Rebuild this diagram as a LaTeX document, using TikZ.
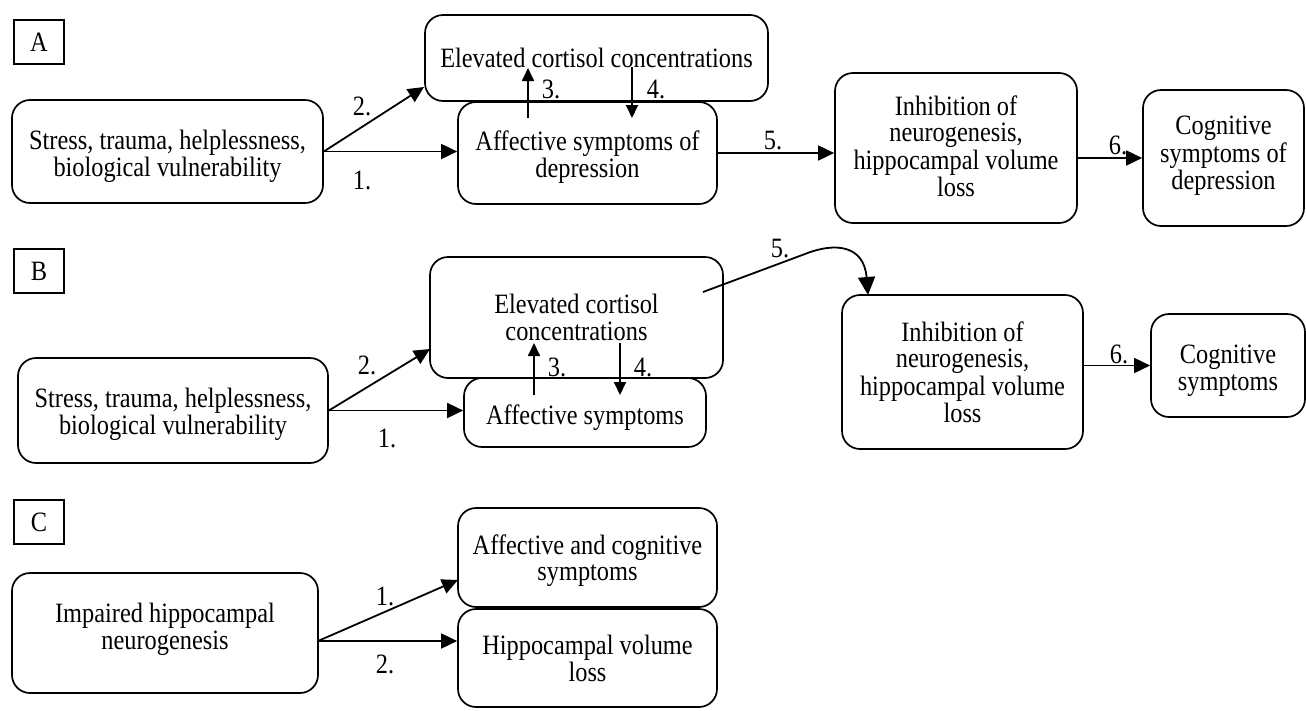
\documentclass[tikz,border=0pt]{standalone}
\usepackage{fontspec}
\setmainfont[FakeStretch=0.87]{Liberation Serif}
\usetikzlibrary{arrows.meta,calc}
\begin{document}
\begin{tikzpicture}[x=1pt,y=-1pt,
  box/.style={draw,line width=1.7pt,rounded corners=18pt,align=center,inner sep=0pt,font=\fontsize{28}{26.5}\selectfont},
  tag/.style={draw,line width=1.4pt,inner sep=0pt,minimum width=50pt,minimum height=44pt,font=\fontsize{28}{26.5}\selectfont},
  num/.style={inner sep=0pt,font=\fontsize{28}{26.5}\selectfont},
  arr/.style={line width=1.8pt,-{Triangle[length=16pt,width=15pt]}},
  sarr/.style={line width=1.8pt,-{Triangle[length=13pt,width=12pt]}},
  barr/.style={line width=1.8pt,-{Triangle[length=18pt,width=17pt]}}
]
\newcommand{\tx}[2]{\raisebox{#1}[\height][\depth]{\begin{tabular}{@{}c@{}}#2\end{tabular}}}
\useasboundingbox (0,0) rectangle (1306,710);
\fill[white] (0,0) rectangle (1306,710);

% ---------------- Panel A ----------------
\node[tag] (labA) at (39,42) {A};
\node[box,minimum width=311pt,minimum height=103pt] (sA) at (167.5,151.5) {\tx{-6pt}{Stress, trauma, helplessness,\\biological vulnerability}};
\node[box,minimum width=343pt,minimum height=86pt] (cA) at (596.5,58) {Elevated cortisol concentrations};
\node[box,minimum width=259pt,minimum height=102pt] (aA) at (587.5,153) {\tx{-5pt}{Affective symptoms of\\depression}};
\node[box,minimum width=242pt,minimum height=150pt] (iA) at (956,148) {\tx{-2pt}{Inhibition of\\neurogenesis,\\hippocampal volume\\loss}};
\node[box,minimum width=161pt,minimum height=136pt] (gA) at (1223.5,158) {\tx{1pt}{Cognitive\\symptoms of\\depression}};

\coordinate (a2end) at (424,87);
\coordinate (a3s) at (528,118);
\coordinate (a3e) at (528,68);
\coordinate (a4s) at (632,67);
\coordinate (a4e) at (632,118);

\draw[arr] (sA.east) -- (sA.east -| aA.west);
\draw[arr] (sA.east) -- (a2end);
\draw[sarr] (a3s) -- (a3e);
\draw[sarr] (a4s) -- (a4e);
\draw[arr] (aA.east) -- (aA.east -| iA.west);
\draw[arr] (iA.east |- gA.west) -- (gA.west);

\node[num] (nA1) at (362,180) {1.};
\node[num] (nA2) at (362,106) {2.};
\node[num] (nA3) at (551,89) {3.};
\node[num] (nA4) at (656,89) {4.};
\node[num] (nA5) at (773,141) {5.};
\node[num] (nA6) at (1118,145) {6.};

% ---------------- Panel B ----------------
\node[tag] (labB) at (39,271) {B};
\node[box,minimum width=310pt,minimum height=105pt] (sB) at (173,410.5) {\tx{-5pt}{Stress, trauma, helplessness,\\biological vulnerability}};
\node[box,minimum width=293pt,minimum height=121pt] (cB) at (576.5,317.5) {Elevated cortisol\\concentrations};
\node[box,minimum width=242pt,minimum height=69pt] (aB) at (585,412.5) {\tx{-6pt}{Affective symptoms}};
\node[box,minimum width=241pt,minimum height=154pt] (iB) at (962.5,372) {\tx{-4pt}{Inhibition of\\neurogenesis,\\hippocampal volume\\loss}};
\node[box,minimum width=154pt,minimum height=103pt] (gB) at (1228,365.5) {\tx{-6pt}{Cognitive\\symptoms}};

\coordinate (b2end) at (430,349);
\coordinate (b3s) at (534,395);
\coordinate (b3e) at (534,343);
\coordinate (b4s) at (620,343);
\coordinate (b4e) at (620,395);
\coordinate (b5s) at (703,292);
\coordinate (b5m) at (805,254);
\coordinate (b5e) at (868,295);

\draw[arr] (sB.east) -- (sB.east -| aB.west);
\draw[arr] (sB.east) -- (b2end);
\draw[sarr] (b3s) -- (b3e);
\draw[sarr] (b4s) -- (b4e);
\draw[barr] (b5s) -- (b5m) .. controls (835,242) and (864,245) .. (b5e);
\draw[arr] (iB.east |- gB.west) -- (gB.west);

\node[num] (nB1) at (387,438) {1.};
\node[num] (nB2) at (367,365) {2.};
\node[num] (nB3) at (557,367) {3.};
\node[num] (nB4) at (643,367) {4.};
\node[num] (nB5) at (780,249) {5.};
\node[num] (nB6) at (1119,354) {6.};

% ---------------- Panel C ----------------
\node[tag] (labC) at (39,522) {C};
\node[box,minimum width=306pt,minimum height=120pt] (nC) at (165,633) {\tx{3pt}{Impaired hippocampal\\neurogenesis}};
\node[box,minimum width=259pt,minimum height=99pt] (acC) at (587.5,557.5) {\tx{-4pt}{Affective and cognitive\\symptoms}};
\node[box,minimum width=259pt,minimum height=98pt] (hC) at (587.5,658) {\tx{-4pt}{Hippocampal volume\\loss}};

\coordinate (oC) at (318,641);
\coordinate (c1end) at (458,580);

\draw[arr] (oC) -- (c1end);
\draw[arr] (oC) -- (oC -| hC.west);

\node[num] (nC1) at (385,596) {1.};
\node[num] (nC2) at (385,664) {2.};
\end{tikzpicture}
\end{document}
